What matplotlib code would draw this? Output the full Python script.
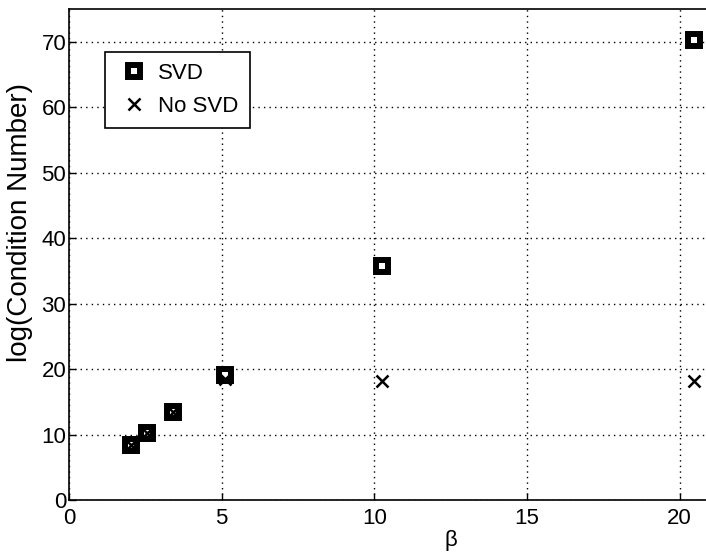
import matplotlib
matplotlib.use("Agg")
import matplotlib.pyplot as plt

plt.rcParams['font.family'] = ['Liberation Sans', 'DejaVu Sans']

beta = [2.048, 2.56, 3.413, 5.12, 10.24, 20.48]
cond_svd = [8.4, 10.3, 13.5, 19.1, 35.7, 70.2]
cond_nosvd = [8.4, 10.3, 13.5, 18.5, 18.2, 18.2]

x_ticks = [0, 5, 10, 15, 20]
y_ticks = [0, 10, 20, 30, 40, 50, 60, 70]

fig = plt.figure(figsize=(7.06, 5.53), dpi=100)
ax = fig.add_axes([0.0977, 0.0958, 1.081, 0.888])

ax.plot(beta, cond_svd, linestyle='none', marker='s', markersize=8.6,
        markeredgewidth=4.3, markeredgecolor='black', markerfacecolor='white',
        label='SVD', zorder=3)
ax.plot(beta, cond_nosvd, linestyle='none', marker='x', markersize=8,
        markeredgewidth=1.8, color='black', label='No SVD', zorder=4)

ax.set_xlim(0, 25)
ax.set_ylim(0, 75)
ax.set_xticks(x_ticks)
ax.set_yticks(y_ticks)
ax.tick_params(direction='in', length=5, width=1, labelsize=16)
ax.tick_params(axis='x', pad=5.5)
ax.tick_params(axis='y', pad=2)
ax.grid(True, color='black', linestyle=(0, (1, 3)), linewidth=1)
for s in ax.spines.values():
    s.set_linewidth(1.2)

ax.set_xlabel('β', fontsize=16, labelpad=1)
ax.set_ylabel('log(Condition Number)', fontsize=20)
ax.yaxis.set_label_coords(-0.047, 0.565)

leg = ax.legend(loc='upper left', bbox_to_anchor=(105 / 706, 1 - 52 / 553),
                bbox_transform=fig.transFigure, fontsize=16, frameon=True,
                fancybox=False, edgecolor='black', framealpha=1,
                borderpad=0.5, handletextpad=0.3, labelspacing=0.54,
                handlelength=1.6, borderaxespad=0)
leg.get_frame().set_linewidth(1.2)

fig.savefig('out.png', dpi=100)
